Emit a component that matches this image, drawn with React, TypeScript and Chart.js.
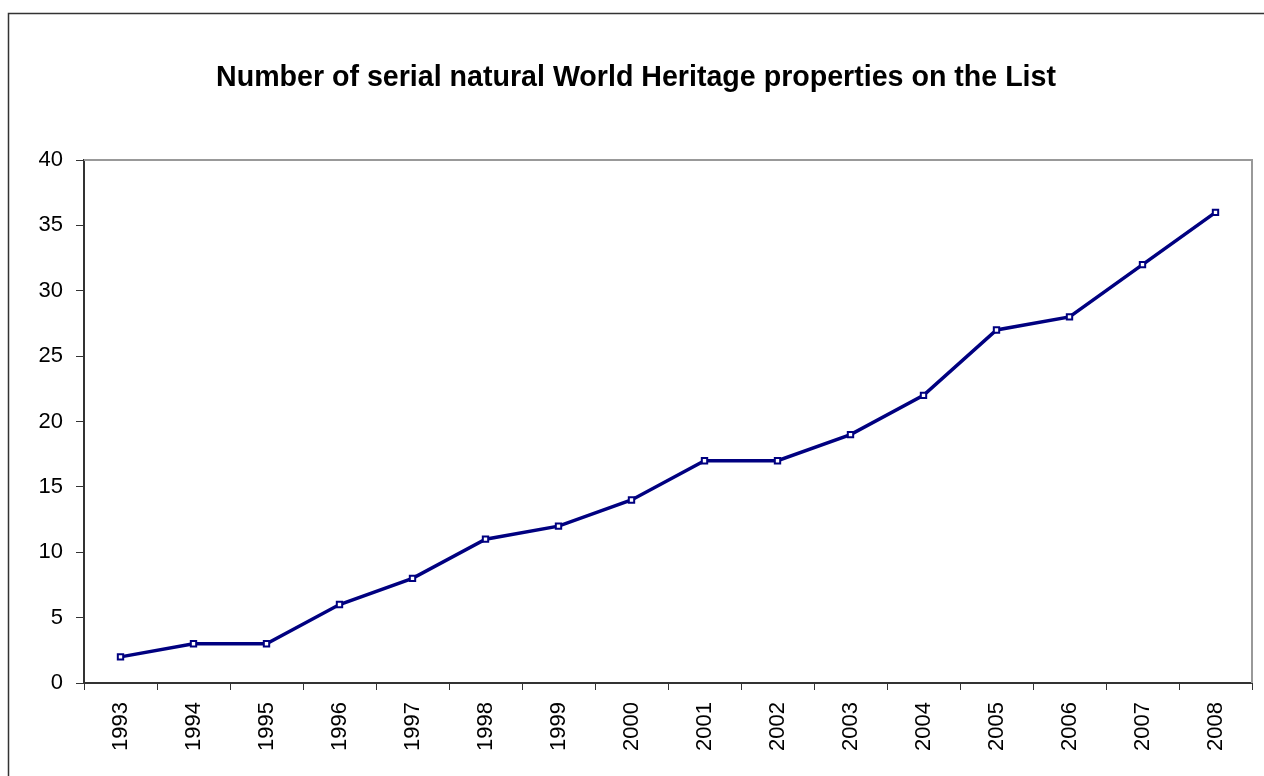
import React, { useEffect, useRef } from "react";
import { Chart, registerables } from "chart.js";

Chart.register(...registerables);

const TITLE = "Number of serial natural World Heritage properties on the List";
const YEARS = ["1993","1994","1995","1996","1997","1998","1999","2000","2001","2002","2003","2004","2005","2006","2007","2008"];
const PROPERTIES = [2, 3, 3, 6, 8, 11, 12, 14, 17, 17, 19, 22, 27, 28, 32, 36];
const Y_MIN = 0;
const Y_MAX = 40;
const Y_STEP = 5;

const FONT = "'Liberation Sans', Arial, sans-serif";

const framePlugin = {
  id: "frame",
  beforeDraw(chart: any) {
    const ctx = chart.ctx;
    ctx.save();
    ctx.fillStyle = "#ffffff";
    ctx.fillRect(0, 0, chart.width, chart.height);
    ctx.strokeStyle = "#333333";
    ctx.lineWidth = 1.5;
    ctx.strokeRect(8.5, 13.5, chart.width + 20, chart.height + 20);
    ctx.restore();
  },
  afterDraw(chart: any) {
    const { ctx, chartArea } = chart;
    ctx.save();
    ctx.strokeStyle = "#999999";
    ctx.lineWidth = 2;
    ctx.beginPath();
    ctx.moveTo(chartArea.left, chartArea.top);
    ctx.lineTo(chartArea.right, chartArea.top);
    ctx.lineTo(chartArea.right, chartArea.bottom);
    ctx.stroke();
    ctx.restore();
  },
};

export default function App() {
  const ref = useRef<HTMLCanvasElement | null>(null);
  useEffect(() => {
    if (!ref.current) return;
    const chart = new Chart(ref.current, {
      type: "line",
      data: {
        labels: YEARS,
        datasets: [
          {
            data: PROPERTIES,
            borderColor: "#000080",
            borderWidth: 3.5,
            pointStyle: "rect",
            pointRadius: 3.8,
            pointBorderWidth: 2,
            pointBorderColor: "#000080",
            pointBackgroundColor: "#ffffff",
            tension: 0,
            clip: false,
          },
        ],
      },
      options: {
        responsive: false,
        animation: false,
        maintainAspectRatio: false,
        layout: { padding: { left: 20, right: 12, top: 0, bottom: 0 } },
        plugins: {
          legend: { display: false },
          tooltip: { enabled: false },
          title: {
            display: true,
            text: TITLE,
            color: "#000000",
            font: { family: FONT, size: 28.6, weight: "bold", lineHeight: 1.2 },
            padding: { top: 61.2, bottom: 64.5 },
          },
        },
        scales: {
          x: {
            type: "category",
            offset: true,
            grid: {
              display: true,
              offset: true,
              drawOnChartArea: false,
              drawTicks: true,
              tickLength: 7,
              color: "#333333",
              lineWidth: 1,
            },
            border: { display: true, color: "#333333", width: 2 },
            ticks: {
              minRotation: 90,
              maxRotation: 90,
              autoSkip: false,
              padding: 12,
              color: "#000000",
              font: { family: FONT, size: 22 },
            },
            afterFit(scale: any) {
              scale.height = 93;
            },
          },
          y: {
            min: Y_MIN,
            max: Y_MAX,
            grid: {
              display: true,
              drawOnChartArea: false,
              drawTicks: true,
              tickLength: 8,
              color: "#333333",
              lineWidth: 1,
            },
            border: { display: true, color: "#333333", width: 2 },
            ticks: {
              stepSize: Y_STEP,
              padding: 13,
              color: "#000000",
              font: { family: FONT, size: 22 },
            },
            afterFit(scale: any) {
              scale.width = 64;
            },
          },
        },
      },
      plugins: [framePlugin],
    });
    return () => chart.destroy();
  }, []);
  return (
    <div style={{ position: "absolute", left: 0, top: 0, width: 1264, height: 776 }}>
      <canvas ref={ref} width={1264} height={776} style={{ width: 1264, height: 776, display: "block" }} />
    </div>
  );
}
